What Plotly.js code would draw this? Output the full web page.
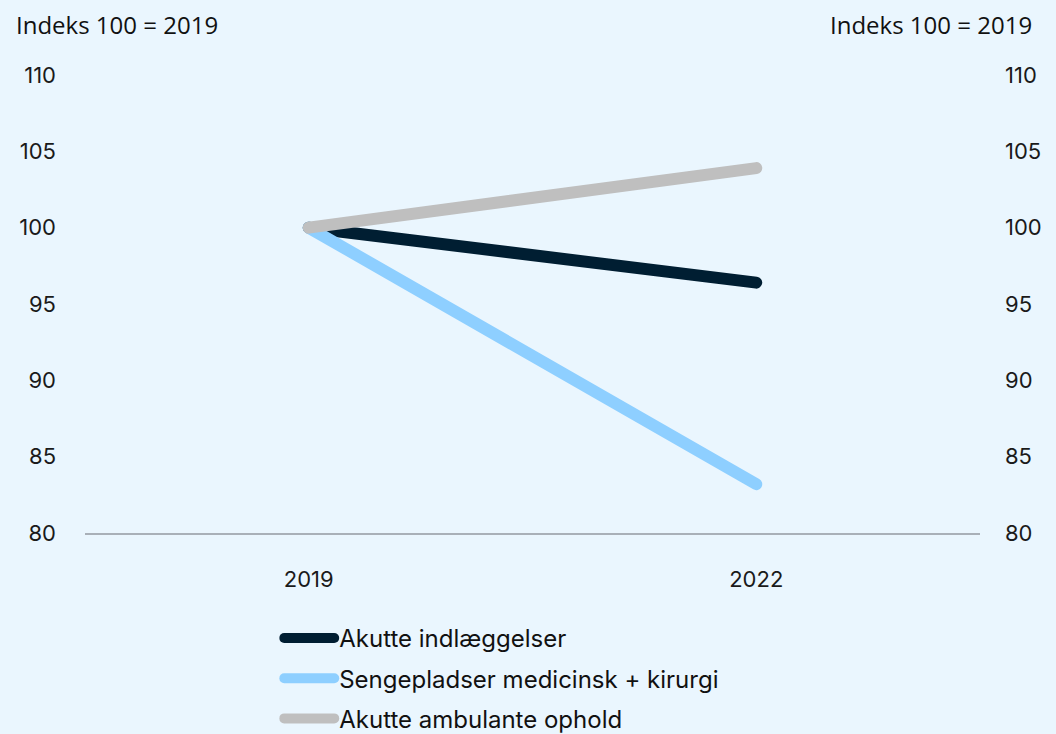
<!DOCTYPE html>
<html>
<head>
<meta charset="utf-8">
<script src="https://cdn.plot.ly/plotly-3.0.1.min.js"></script>
<style>
html,body{margin:0;padding:0;background:#EAF6FE;}
#chart{width:1056px;height:734px;}
#chart path.js-line, #chart .legendlines path{stroke-linecap:round;}
</style>
</head>
<body>
<div id="chart"></div>
<script>
var years = ['2019', '2022'];
var seriesNames = ['Akutte indlæggelser', 'Sengepladser medicinsk + kirurgi', 'Akutte ambulante ophold'];
var akutteIndlaeggelser = [100, 96.4];
var sengepladser = [100, 83.2];
var akutteAmbulante = [100, 103.9];
var yTicks = [80, 85, 90, 95, 100, 105, 110];
var axisTitle = 'Indeks 100 = 2019';

var colors = ['#001E32', '#8ECFFF', '#BFBFBF'];
var values = [akutteIndlaeggelser, sengepladser, akutteAmbulante];
var FONT = 'Inter, "Open Sans", sans-serif';

var traces = values.map(function (v, i) {
  return {
    x: years, y: v, name: seriesNames[i], type: 'scatter', mode: 'lines',
    legendgroup: 'g' + i,
    line: {color: colors[i], width: 12}, hoverinfo: 'x+y'
  };
});
traces.push({x: years, y: akutteIndlaeggelser, yaxis: 'y2', mode: 'lines', showlegend: false,
  line: {color: 'rgba(0,0,0,0)', width: 0}, hoverinfo: 'skip'});

var yax = {
  range: [80, 110], tickvals: yTicks, ticktext: yTicks.map(String), showgrid: false, zeroline: false,
  showline: false, ticks: '', ticklabelstandoff: 28, tickfont: {family: FONT, size: 22, color: '#1a1a1a'}, fixedrange: true
};
var yax2 = Object.assign({}, yax, {overlaying: 'y', side: 'right', ticklabelstandoff: 24});

var layout = {
  width: 1056, height: 734,
  paper_bgcolor: '#EAF6FE', plot_bgcolor: '#EAF6FE',
  margin: {l: 85, r: 76, t: 75, b: 201, autoexpand: false},
  showlegend: true,
  legend: {orientation: 'v', x: 0.217, xanchor: 'left', y: -0.181, yanchor: 'top',
    traceorder: 'grouped', tracegroupgap: 6,
    font: {family: FONT, size: 24, color: '#111'}, itemwidth: 50, bgcolor: 'rgba(0,0,0,0)'},
  xaxis: {type: 'category', range: [-0.5, 1.5], showgrid: false, zeroline: false, showline: true,
    linecolor: '#A9B0B8', linewidth: 2, ticks: '', ticklabelstandoff: 26,
    tickfont: {family: FONT, size: 22, color: '#1a1a1a'}},
  yaxis: yax,
  yaxis2: yax2,
  annotations: [
    {text: axisTitle, xref: 'paper', yref: 'paper', x: -0.079, y: 1, yshift: 51, xanchor: 'left', yanchor: 'middle',
      showarrow: false, font: {family: 'Open Sans, sans-serif', size: 24, color: '#111'}},
    {text: axisTitle, xref: 'paper', yref: 'paper', x: 1.06, y: 1, yshift: 51, xanchor: 'right', yanchor: 'middle',
      showarrow: false, font: {family: 'Open Sans, sans-serif', size: 24, color: '#111'}}
  ]
};
Plotly.newPlot('chart', traces, layout, {displayModeBar: false, staticPlot: true});
</script>
</body>
</html>
